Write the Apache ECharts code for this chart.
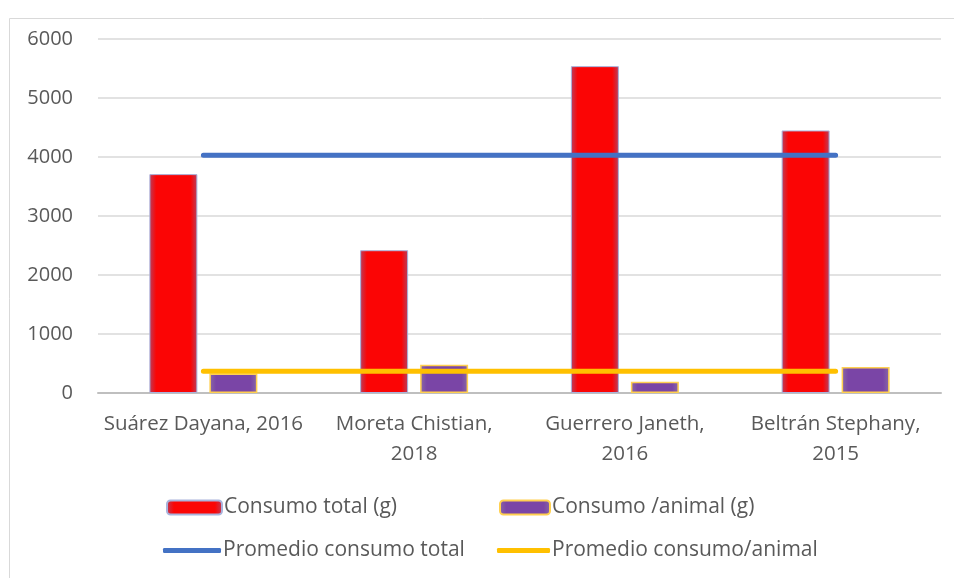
<!DOCTYPE html>
<html>
<head>
<meta charset="utf-8">
<script src="https://cdn.jsdelivr.net/npm/echarts@6/dist/echarts.min.js"></script>
<style>
html,body{margin:0;padding:0;background:#fff;}
#chart{width:954px;height:578px;}
</style>
</head>
<body>
<div id="chart"></div>
<script>
// Consumo por estudio
const categories = ['Suárez Dayana, 2016', 'Moreta Chistian, 2018', 'Guerrero Janeth, 2016', 'Beltrán Stephany, 2015'];
const consumoTotal = [3710, 2420, 5540, 4450];
const consumoAnimal = [330, 480, 190, 440];
const promedioTotal = [4030, 4030, 4030, 4030];
const promedioAnimal = [370, 370, 370, 370];
const yTicks = { min: 0, max: 6000, interval: 1000 };

const FONT = '"Open Sans", "Noto Sans", sans-serif';
const TXT = '#595959';

function edgeGradient(edge, mid) {
  return new echarts.graphic.LinearGradient(0, 0, 1, 0, [
    { offset: 0, color: edge },
    { offset: 0.14, color: mid },
    { offset: 0.86, color: mid },
    { offset: 1, color: edge }
  ]);
}

// long category names go on two lines, split after the comma
function wrapLabel(name) {
  return name.length > 19 ? name.replace(', ', ',\n') : name;
}

const chart = echarts.init(document.getElementById('chart'), null, { renderer: 'canvas' });

const legendBase = {
  orient: 'horizontal',
  itemGap: 0,
  textStyle: { fontFamily: FONT, fontSize: 21, color: TXT, padding: [0, 0, 0, -3] },
  padding: 0
};

chart.setOption({
  backgroundColor: '#ffffff',
  animation: false,
  graphic: [{
    type: 'rect',
    shape: { x: 9.5, y: 18.5, width: 960, height: 600 },
    style: { fill: 'none', stroke: '#d9d9d9', lineWidth: 1 },
    silent: true,
    z: -10
  }],
  grid: { left: 98, right: 13, top: 39, bottom: 185 },
  legend: [
    Object.assign({}, legendBase, { data: ['Consumo total (g)'], left: 166, top: 497, itemWidth: 55, itemHeight: 14 }),
    Object.assign({}, legendBase, { data: ['Consumo /animal (g)'], left: 499, top: 497, itemWidth: 50, itemHeight: 14 }),
    Object.assign({}, legendBase, { data: [{ name: 'Promedio consumo total', icon: 'roundRect' }], left: 163, top: 540, itemWidth: 58, itemHeight: 5 }),
    Object.assign({}, legendBase, { data: [{ name: 'Promedio consumo/animal', icon: 'roundRect' }], left: 497, top: 540, itemWidth: 53, itemHeight: 5 })
  ],
  xAxis: {
    type: 'category',
    data: categories,
    axisTick: { show: false },
    axisLine: { lineStyle: { color: '#bfbfbf', width: 2 } },
    axisLabel: {
      fontFamily: FONT, fontSize: 20.5, color: TXT, margin: 16,
      lineHeight: 30, interval: 0, formatter: wrapLabel
    }
  },
  yAxis: {
    type: 'value',
    min: yTicks.min, max: yTicks.max, interval: yTicks.interval,
    axisLine: { show: false },
    axisTick: { show: false },
    axisLabel: { fontFamily: FONT, fontSize: 20, color: TXT, margin: 25, formatter: v => String(v) },
    splitLine: { lineStyle: { color: '#d9d9d9', width: 1.5 } }
  },
  series: [
    {
      name: 'Consumo total (g)',
      type: 'bar',
      data: consumoTotal,
      barWidth: 48,
      barGap: '25%',
      itemStyle: {
        color: edgeGradient('#b8405e', '#fb0505'),
        borderColor: '#a9b3dc',
        borderWidth: 1
      },
      z: 2
    },
    {
      name: 'Consumo /animal (g)',
      type: 'bar',
      data: consumoAnimal,
      barWidth: 48,
      itemStyle: {
        color: edgeGradient('#8a6aa6', '#7a45a6'),
        borderColor: '#ffd050',
        borderWidth: 1.5
      },
      z: 2
    },
    {
      name: 'Promedio consumo total',
      type: 'line',
      data: promedioTotal,
      symbol: 'none',
      lineStyle: { color: '#4472c4', width: 5, cap: 'round' },
      itemStyle: { color: '#4472c4' },
      z: 5
    },
    {
      name: 'Promedio consumo/animal',
      type: 'line',
      data: promedioAnimal,
      symbol: 'none',
      lineStyle: { color: '#ffc000', width: 5, cap: 'round' },
      itemStyle: { color: '#ffc000' },
      z: 5
    }
  ]
});
</script>
</body>
</html>
